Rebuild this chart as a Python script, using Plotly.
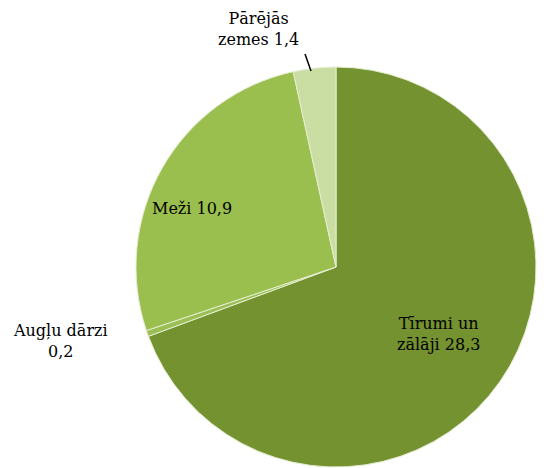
import plotly.graph_objects as go

labels = ["Tīrumi un<br>zālāji", "Augļu dārzi<br>", "Meži", "Pārējās<br>zemes"]
values = [28.3, 0.2, 10.9, 1.4]
value_text = ["28,3", "0,2", "10,9", "1,4"]
colors = ["#74922F", "#9CBF55", "#9BBF4F", "#CADDA2"]

W, H = 553, 468
OFF = 8  # page body margin offset
cx, cy, r = 336 - OFF, 267 - OFF, 200

def px(x):
    return (x - OFF) / W

def py(y):
    return 1 - (y - OFF) / H

fig = go.Figure(go.Pie(
    labels=labels,
    values=values,
    sort=False,
    direction="clockwise",
    rotation=0,
    textinfo="none",
    hoverinfo="label+value",
    marker=dict(colors=colors, line=dict(color="#E4EDD0", width=1)),
    domain=dict(x=[(cx - r) / W, (cx + r) / W], y=[1 - (cy + r) / H, 1 - (cy - r) / H]),
    showlegend=False,
))

label_pos = [(438, 334), (60, 341), (192, 208), (258, 29)]
anns = []
for lab, vt, (x, y) in zip(labels, value_text, label_pos):
    anns.append(dict(
        x=px(x), y=py(y), xref="paper", yref="paper",
        xanchor="center", yanchor="middle",
        text=f"{lab} {vt}".replace("<br> ", "<br>"),
        showarrow=False, align="center",
        font=dict(family="DejaVu Serif", size=16, color="#000000"),
    ))

fig.update_layout(
    width=W, height=H,
    margin=dict(l=0, r=0, t=0, b=0),
    paper_bgcolor="white", plot_bgcolor="white",
    annotations=anns,
    shapes=[dict(type="line", xref="paper", yref="paper",
                 x0=px(305), y0=py(54), x1=px(311), y1=py(71),
                 line=dict(color="black", width=1.5))],
)

fig.write_html("out.html")
